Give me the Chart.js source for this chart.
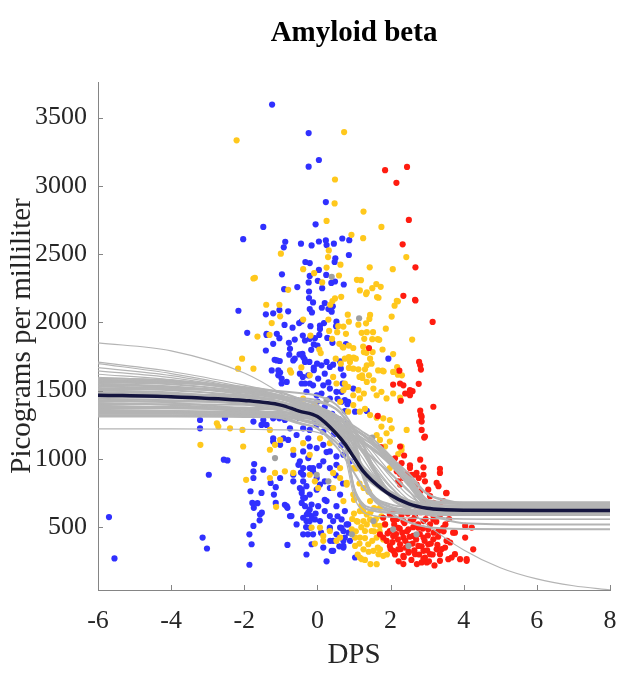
<!DOCTYPE html>
<html>
<head>
<meta charset="utf-8">
<script src="https://cdn.jsdelivr.net/npm/chart.js@4.4.1/dist/chart.umd.min.js"></script>
<style>
  html, body { margin: 0; padding: 0; background: #fff; }
  #wrap { width: 619px; height: 675px; }
</style>
</head>
<body>
<div id="wrap"><canvas id="myChart" width="619" height="675"></canvas></div>
<script>
var chartTitle = "Amyloid beta";
var xLabel = "DPS";
var yLabel = "Picograms per milliliter";
var xTicks = [-6, -4, -2, 0, 2, 4, 6, 8];
var yTicks = [500, 1000, 1500, 2000, 2500, 3000, 3500];

// subjects, [DPS, pg/ml]
var bluePts = [
  [-1.24,3595],[-0.24,3386],[0.04,3189],[-0.24,3140],[-1.48,2699],[-2.03,2609],[-0.05,2718],[-0.88,2590],[-0.92,2549],
  [-0.45,2576],[-0.16,2563],[0.04,2592],[-0.33,2442],[-0.21,2434],[-0.21,2340],[0.04,2384],[-0.97,2352],[-0.91,2243],
  [-0.55,2258],[-0.24,2292],[-0.23,2226],[-0.23,2178],[-0.12,2146],[-2.16,2085],[-1.41,2059],[-1.21,2066],[-1.04,2090],
  [-0.80,2081],[-0.21,2097],[-0.15,2073],[-0.90,1981],[-0.68,1961],[-0.50,1995],[-0.43,2008],[-0.19,1972],[-1.92,1923],
  [-1.39,1908],[0.23,2881],[0.68,2614],[0.87,2602],[0.45,2576],[0.23,2600],[0.25,2566],[0.86,2493],[0.49,2469],
  [0.47,2442],[0.24,2347],[0.38,2289],[0.48,2299],[0.72,2277],[0.13,2250],[0.20,2141],[0.30,2097],[0.42,2117],
  [0.39,2078],[0.12,2107],[0.52,2005],[0.51,1972],[0.18,1995],[0.07,1976],[0.01,2304],[0.07,1952],[0.05,1908],
  [-1.04,1884],[-0.78,1850],[-0.62,1874],[-0.40,1903],[-0.34,1867],[-0.21,1879],[-0.07,1884],[-0.10,1838],[-0.17,1799],
  [0.00,1830],[0.27,1886],[0.41,1850],[-1.41,1794],[-1.17,1726],[-1.03,1717],[-0.77,1763],[-0.62,1734],[-0.49,1765],
  [-0.39,1746],[-0.35,1729],[-0.22,1710],[-0.10,1668],[-0.01,1697],[0.11,1685],[0.25,1710],[0.34,1673],[0.43,1690],
  [-1.25,1648],[-1.02,1632],[0.78,1840],[1.94,1734],[0.64,1661],[0.62,1714],[0.66,1491],[0.69,1552],[0.82,1401],
  [0.75,1430],[0.66,1418],[1.03,1346],[1.35,1351],[0.75,618],[0.66,557],[0.84,520],[0.71,472],[0.75,424],
  [0.89,400],[0.71,363],[1.03,278],[0.66,496],[-0.29,593],[-0.20,497],[0.07,545],[0.34,497],[0.43,400],
  [0.43,327],[0.16,351],[-0.39,448],[-5.70,574],[-5.55,271],[-3.14,424],[-3.02,344],[-2.97,884],[-3.21,1285],
  [-3.21,1224],[-2.53,1297],[-2.56,994],[-2.46,989],[-1.73,962],[-1.75,909],[-1.83,763],[-1.74,642],[-1.78,678],
  [-1.53,751],[-1.57,593],[-1.75,509],[-1.86,448],[-1.80,375],[-1.86,225],[-1.48,1285],[-1.39,1249],[-1.21,1326],
  [-1.04,1297],[-0.89,1285],[-1.21,1151],[-0.93,1151],[-1.28,824],[-1.14,793],[-1.19,739],[-1.14,678],[-0.84,654],
  [-0.75,581],[-0.57,520],[-0.82,370],[-0.75,1224],[-0.57,1175],[-0.39,1224],[-0.66,1030],[-0.48,982],[-0.66,836],
  [-0.39,1055],[-0.21,933],[-0.39,884],[-0.48,787],[-0.34,715],[-0.16,666],[-0.25,606],[-0.30,545],[-0.12,448],
  [-0.16,375],[-0.98,1588],[-0.84,1564],[-0.75,1806],[-0.66,1721],[-1.11,1721],[-1.07,1648],[-1.21,1843],[-1.11,1916],
  [-1.39,1916],[-0.41,1770],[-0.34,1710],[-0.25,1612],[-0.43,1552],[-0.30,1491],[-0.57,1430],[-0.39,1394],[-0.25,1346],
  [-0.12,1539],[-0.02,1466],[0.02,1321],[-0.07,1273],[-1.07,1612],[-0.98,1552],[-0.48,1624],[-0.34,1552],[-0.21,1552],
  [0.02,1588],[0.20,1624],[0.34,1515],[0.11,1479],[-1.75,1273],[-1.53,1249],[-1.21,1297],[-1.02,1333],[-1.21,1127],
  [-1.02,1103],[-0.80,1139],[-1.48,921],[-1.02,860],[-1.75,860],[-0.66,884],[-0.52,957],[-0.39,933],[-0.25,1006],
  [-0.21,1091],[-0.02,1079],[-0.25,1151],[-0.21,1212],[-0.02,1249],[0.16,1200],[-0.30,800],[-0.02,775],[-0.43,751],
  [0.16,1103],[0.34,1055],[0.52,1018],[0.71,1030],[0.89,982],[0.16,982],[0.34,933],[0.52,957],[-0.02,860],
  [0.20,836],[-0.12,909],[0.16,1539],[0.34,1442],[0.52,1491],[0.71,1612],[0.84,1418],[0.98,1515],[-1.64,676],
  [-1.52,606],[-1.58,550],[-0.89,664],[-0.82,642],[-0.71,581],[-0.43,775],[-0.39,715],[-0.43,678],[-0.34,654],
  [-0.21,630],[-0.16,581],[-0.21,545],[-0.07,557],[-0.39,569],[-0.31,501],[-0.26,448],[0.02,654],[0.25,691],
  [0.20,618],[0.34,581],[0.52,654],[0.43,545],[0.62,497],[0.34,484],[0.52,448],[0.71,400],[0.39,327],
  [0.71,351],[-0.12,933],[-0.39,836],[0.07,812],[0.34,787],[-0.21,739],[0.62,739],[-0.50,1300],[-0.30,1350],
  [0.00,1420],[0.20,1380],[0.40,1330],[0.60,1290],[0.80,1260],[-0.40,1600],[-0.10,1650],[0.30,1560],[0.55,1440],
  [0.75,1350],[0.45,1180],[0.65,1100],[0.25,1050],[0.05,950],[0.50,880],[-0.45,900],[0.70,820],[0.20,700],
  [-0.05,600],[0.55,580],[0.80,520],[0.10,460],[0.35,400],[0.85,460],[0.60,360],[-0.30,300],[0.25,250]
];

var yellowPts = [
  [-2.21,3333],[-1.00,2503],[-0.39,2389],[-0.09,2360],[-1.75,2321],[-1.71,2326],[-0.80,2238],[-1.40,2129],[-1.04,2129],
  [-1.02,2044],[-1.25,1995],[-0.39,2020],[-1.64,1896],[0.73,3393],[0.48,3046],[0.47,2871],[1.26,2811],[0.25,2743],
  [1.75,2699],[0.93,2641],[1.25,2616],[0.31,2527],[0.29,2478],[2.43,2478],[0.63,2422],[1.43,2403],[2.06,2389],
  [0.25,2401],[0.59,2343],[1.08,2311],[1.19,2309],[0.13,2292],[1.61,2280],[1.73,2260],[1.50,2250],[1.16,2234],
  [1.35,2219],[1.63,2185],[1.67,2180],[1.33,2207],[2.11,2122],[2.17,2158],[2.20,2154],[0.65,2187],[0.48,2175],
  [0.41,2156],[0.35,2129],[0.83,2056],[0.86,2005],[1.44,2054],[1.42,2025],[2.03,2042],[0.30,2020],[0.71,1969],
  [0.57,1972],[1.12,1983],[1.33,1993],[1.87,1954],[1.52,1928],[1.21,1923],[1.35,1928],[-1.31,1908],[-0.19,1903],
  [0.32,1937],[0.54,1928],[0.78,1916],[0.40,1879],[0.60,1843],[0.71,1816],[0.86,1830],[0.05,1801],[0.09,1775],
  [0.50,1734],[0.64,1697],[0.75,1734],[0.89,1710],[1.05,1734],[0.86,1666],[-2.06,1734],[-2.17,1661],[-0.44,1670],
  [-0.72,1632],[2.59,1874],[1.28,1879],[1.50,1877],[1.65,1877],[1.69,1872],[0.69,1819],[0.98,1812],[1.25,1823],
  [1.51,1782],[1.78,1801],[1.27,1782],[1.34,1777],[2.07,1768],[0.86,1746],[0.99,1741],[1.44,1734],[1.48,1697],
  [1.35,1685],[2.18,1673],[2.31,1612],[2.20,1617],[2.07,1637],[1.78,1646],[0.98,1661],[1.12,1656],[1.30,1656],
  [1.22,1612],[1.41,1612],[1.15,1600],[1.23,1593],[1.53,1576],[1.35,1564],[1.66,1648],[1.81,1641],[0.75,1552],
  [0.84,1528],[0.71,1503],[0.98,1466],[1.16,1443],[1.27,1479],[1.12,1503],[1.53,1515],[1.75,1491],[1.62,1466],
  [1.89,1443],[2.07,1479],[2.26,1448],[1.30,1367],[1.16,1346],[1.44,1321],[1.62,1302],[1.80,1297],[1.98,1285],
  [1.75,1237],[2.03,1224],[1.89,1188],[1.62,1175],[2.44,1212],[1.71,1139],[1.98,1127],[1.85,1091],[2.30,1091],
  [2.30,1066],[2.21,1035],[2.12,957],[1.98,933],[-0.75,1648],[-0.21,1612],[0.43,1600],[0.52,1552],[0.80,1527],
  [-0.66,1067],[-0.39,1115],[-0.21,1030],[0.07,1151],[0.34,1115],[0.43,897],[0.62,860],[0.80,824],[0.98,933],
  [0.43,787],[0.62,1418],[0.84,1346],[0.98,1394],[-3.20,1103],[-2.75,1261],[-2.71,1237],[-2.39,1224],[-1.75,1661],
  [-2.05,1212],[-2.03,1091],[-1.95,847],[-1.30,1212],[-1.30,1067],[-1.16,1103],[-1.02,1139],[-1.30,860],[-1.16,897],
  [-0.89,909],[-0.66,897],[-1.13,649],[-0.21,884],[-0.07,836],[0.02,787],[-0.16,497],[-0.07,380],[-0.39,1442],
  [-0.07,1394],[0.16,436],[0.34,472],[0.62,424],[1.16,618],[1.35,593],[1.44,557],[1.26,545],[1.57,520],
  [1.71,509],[1.30,472],[1.48,472],[1.16,424],[1.62,424],[1.39,375],[1.26,338],[1.53,327],[1.71,338],
  [1.80,290],[1.62,229],[1.21,266],[1.03,363],[0.94,484],[1.07,545],[0.07,497],[0.16,400],[0.52,400],
  [1.03,424],[1.16,278],[1.67,302],[1.89,400],[0.62,933],[0.80,812],[0.98,739],[0.71,691],[1.26,787],
  [1.44,691],[1.71,642],[1.00,600],[1.05,470],[1.10,540],[1.15,380],[1.20,500],[1.25,620],[1.30,420],
  [1.35,520],[1.40,320],[1.45,610],[1.50,400],[1.55,470],[1.60,560],[1.65,350],[1.70,470],[1.75,580],
  [1.80,410],[1.85,520],[1.90,300],[1.30,260],[1.45,230],[1.10,300],[0.95,560],[1.55,640],[1.20,660],
  [1.00,700],[1.40,760],[1.15,820],[1.30,880],[1.05,930]
];

var redPts = [
  [1.85,3114],[2.45,3138],[2.16,3022],[2.50,2750],[2.33,2571],[2.68,2403],[2.35,2194],[2.67,2165],[2.68,2160],
  [3.15,2003],[1.41,1812],[2.78,1710],[2.81,1685],[2.83,1654],[2.24,1646],[2.07,1544],[2.35,1539],[2.53,1491],
  [2.60,1496],[2.28,1426],[2.77,1550],[1.65,1315],[3.17,1382],[2.81,1353],[2.83,1321],[2.85,1273],[2.92,1156],
  [1.73,1086],[2.37,1025],[2.81,994],[2.90,938],[2.12,1004],[2.30,969],[2.21,933],[2.53,953],[2.71,897],
  [2.58,884],[2.44,889],[3.35,927],[3.26,824],[3.31,800],[2.90,884],[2.77,860],[2.94,836],[2.26,889],
  [2.35,860],[2.21,836],[3.52,749],[2.71,812],[3.03,775],[2.26,1552],[2.53,1503],[2.40,1479],[2.53,1467],
  [2.85,1309],[2.94,1164],[2.85,1212],[2.26,1091],[3.35,897],[3.44,691],[3.71,460],[4.04,424],[4.26,338],
  [3.67,278],[4.08,254],[3.53,400],[3.44,496],[2.53,933],[2.67,884],[2.35,872],[2.26,812],[2.53,824],
  [2.17,909],[2.81,763],[3.53,751],[3.08,727],[3.49,642],[3.76,637],[2.99,606],[3.76,460],[3.63,388],
  [3.49,351],[3.35,302],[3.76,302],[3.90,266],[3.58,266],[2.94,278],[2.85,242],[4.08,266],[2.67,302],
  [2.49,314],[2.35,290],[2.21,338],[2.07,327],[1.98,363],[1.89,400],[1.80,424],[1.71,448],[2.07,557],
  [2.35,545],[2.62,557],[2.90,545],[3.17,557],[2.21,496],[2.49,484],[2.76,496],[3.03,484],[3.31,472],
  [2.07,436],[2.35,424],[2.62,436],[2.90,424],[3.17,411],[2.49,375],[2.76,363],[3.03,375],[2.26,375],
  [1.98,472],[2.90,691],[3.17,678],[3.35,654],[2.71,654],[2.44,666],[2.26,618],[1.98,593],[1.80,569],
  [4.04,509],[4.22,497],[3.08,302],[3.26,338],[2.90,327],[2.99,242],[3.35,254],[1.85,520],[1.92,455],
  [2.00,600],[2.05,390],[2.10,520],[2.12,300],[2.15,450],[2.18,560],[2.20,410],[2.22,250],[2.25,490],
  [2.28,340],[2.30,590],[2.32,460],[2.36,280],[2.38,530],[2.40,400],[2.42,350],[2.45,470],[2.47,600],
  [2.50,320],[2.52,430],[2.55,550],[2.57,260],[2.60,380],[2.62,500],[2.65,330],[2.67,580],[2.70,410],
  [2.72,230],[2.75,520],[2.78,300],[2.80,450],[2.82,610],[2.85,360],[2.88,490],[2.90,270],[2.93,400],
  [2.96,560],[3.00,330],[3.02,440],[3.05,250],[3.08,520],[3.10,380],[3.12,600],[3.15,300],[3.18,460],
  [3.20,220],[3.25,540],[3.28,370],[3.30,430],[3.35,590],[3.40,340],[3.45,470],[3.50,520],[3.55,400],
  [3.60,560],[2.00,340],[2.15,620],[2.35,230]
];

var grayPts = [
  [0.39,2333],[1.14,2030],[1.50,1156],[-1.16,1006],[-0.02,884],[0.30,836],[1.53,545],[2.07,484],[2.71,448],
  [2.49,363],[0.94,448],[0.25,1430]
];

// model curves, values read at these DPS positions
var curveX = [-6, -4, -2, -1, -0.5, 0, 0.5, 0.75, 1, 1.25, 1.5, 2, 2.5, 3, 3.5, 4, 6, 8];
var meanCurve = [1467,1455,1428,1394,1350,1310,1190,1110,1010,910,840,735,670,638,628,624,622,622];
var bandCurves = [
  [1311,1311,1307,1304,1300,1282,1210,1096,773,650,622,607,600,596,593,593,593,593],
  [1320,1320,1317,1313,1306,1293,1252,1198,1082,878,742,667,647,640,640,640,640,640],
  [1330,1330,1326,1323,1319,1301,1229,1114,790,668,639,624,617,613,610,610,610,610],
  [1340,1340,1337,1330,1320,1306,1258,1204,1129,1041,932,755,687,667,660,660,660,660],
  [1350,1350,1346,1343,1335,1320,1275,1215,1088,863,713,630,608,600,600,600,600,600],
  [1360,1350,1326,1297,1259,1224,1121,1051,965,879,818,728,672,644,635,631,630,630],
  [1370,1370,1366,1362,1358,1339,1261,1136,785,652,621,606,598,593,590,590,590,590],
  [1380,1380,1376,1369,1358,1344,1292,1234,1154,1059,942,752,679,657,650,650,650,650],
  [1390,1377,1348,1312,1265,1221,1093,1007,900,793,718,605,536,501,490,486,484,484],
  [1400,1400,1396,1392,1384,1369,1322,1260,1127,893,737,651,628,620,620,620,620,620],
  [1410,1395,1358,1321,1292,1262,1218,1188,1151,1114,1070,973,870,744,700,677,670,670],
  [1420,1420,1416,1408,1395,1379,1322,1256,1166,1059,928,715,633,608,600,600,600,600],
  [1430,1412,1366,1321,1284,1248,1193,1157,1112,1066,1011,893,766,611,556,529,520,520],
  [1440,1429,1403,1371,1330,1291,1178,1102,1007,913,846,747,686,655,646,642,640,640],
  [1450,1450,1446,1442,1433,1416,1366,1299,1156,904,736,644,618,610,610,610,610,610],
  [1460,1448,1400,1353,1314,1276,1228,1199,1160,1121,1082,972,834,697,684,680,680,680],
  [1470,1470,1466,1457,1445,1428,1368,1300,1207,1096,960,739,654,629,620,620,620,620],
  [1480,1462,1418,1374,1339,1304,1251,1216,1172,1128,1075,961,838,688,635,609,600,600],
  [1490,1478,1451,1418,1374,1334,1214,1135,1036,936,867,763,698,666,656,652,650,650],
  [1500,1486,1433,1381,1337,1295,1242,1209,1165,1122,1079,955,802,649,634,630,630,630],
  [1510,1510,1505,1496,1483,1464,1400,1327,1226,1107,961,723,632,604,595,595,595,595],
  [1520,1503,1460,1417,1382,1348,1296,1262,1219,1176,1124,1013,892,746,694,669,660,660],
  [1530,1517,1488,1451,1404,1360,1230,1143,1035,927,851,738,667,632,621,617,615,615],
  [1540,1526,1471,1417,1372,1328,1273,1239,1194,1149,1104,977,818,660,644,640,640,640],
  [1550,1531,1484,1437,1399,1361,1304,1267,1219,1172,1115,992,860,700,643,614,605,605],
  [1560,1546,1491,1438,1394,1350,1296,1262,1217,1174,1129,1003,846,690,674,670,670,670],
  [1570,1557,1527,1489,1440,1394,1260,1170,1059,947,869,752,679,643,632,627,625,625],
  [1580,1565,1508,1453,1406,1361,1304,1268,1222,1176,1130,998,834,670,655,650,650,650],
  [1590,1575,1520,1465,1420,1375,1320,1285,1240,1195,1150,1020,860,700,685,680,680,680]
];
var thinCurves = [
  [1220,1220,1217,1213,1210,1194,1128,1022,725,613,586,573,567,563,560,560,560,560],
  [1708,1640,1540,1480,1440,1390,1320,1270,1210,1140,1060,900,760,680,655,648,645,645],
  [1698,1625,1525,1465,1425,1380,1305,1255,1190,1115,1030,870,730,660,640,633,630,630],
  [1668,1610,1515,1455,1415,1365,1290,1235,1170,1090,1000,830,700,645,628,622,620,620],
  [1645,1595,1510,1450,1410,1355,1275,1215,1150,1060,970,800,680,625,608,602,600,600],
  [1620,1580,1505,1445,1405,1350,1265,1200,1130,1040,950,790,680,635,620,616,615,615],
  [1598,1570,1500,1440,1400,1340,1250,1180,1100,1000,900,740,640,590,568,560,557,557]
];
// the one slow curve that runs down to the bottom
var slowCurveX = [-6, -4, -2, -1, 0, 0.5, 1, 1.5, 2, 2.5, 3, 4, 5, 6, 7, 8];
var slowCurve = [1850,1791,1629,1478,1270,1147,1018,884,754,630,517,333,203,121,71,41];

function toXY(list) {
  return list.map(function (p) { return { x: p[0], y: p[1] }; });
}
function curveXY(xs, ys) {
  return ys.map(function (v, i) { return { x: xs[i], y: v }; });
}
function curveSet(xs, ys, width) {
  return {
    type: 'line', data: curveXY(xs, ys),
    borderColor: 'rgb(180,180,180)', borderWidth: width, pointRadius: 0,
    cubicInterpolationMode: 'monotone', fill: false, order: 1
  };
}

var serif = '"Liberation Serif", "Times New Roman", serif';
var datasets = [];

datasets.push({
  type: 'line', label: 'mean', data: curveXY(curveX, meanCurve),
  borderColor: '#15153f', borderWidth: 3.5, pointRadius: 0,
  cubicInterpolationMode: 'monotone', fill: false, order: 0
});
bandCurves.forEach(function (c) { datasets.push(curveSet(curveX, c, 2)); });
thinCurves.forEach(function (c) { datasets.push(curveSet(curveX, c, 1.2)); });
datasets.push(curveSet(slowCurveX, slowCurve, 1.2));

var groups = [
  { pts: grayPts, color: 'rgb(160,160,160)', order: 2 },
  { pts: redPts, color: 'rgb(255,28,16)', order: 3 },
  { pts: yellowPts, color: 'rgb(255,200,28)', order: 4 },
  { pts: bluePts, color: 'rgb(48,48,255)', order: 5 }
];
groups.forEach(function (g) {
  datasets.push({
    type: 'scatter', data: toXY(g.pts),
    backgroundColor: g.color, borderWidth: 0, pointRadius: 3.1, order: g.order
  });
});

var decor = {
  id: 'decor',
  afterDraw: function (chart) {
    var ctx = chart.ctx, a = chart.chartArea;
    var xs = chart.scales.x, ys = chart.scales.y;
    ctx.save();
    ctx.strokeStyle = '#858585';
    ctx.lineWidth = 1;
    ctx.beginPath();
    xTicks.forEach(function (v) {
      var px = Math.round(xs.getPixelForValue(v)) + 0.5;
      ctx.moveTo(px, a.bottom); ctx.lineTo(px, a.bottom - 5);
    });
    yTicks.forEach(function (v) {
      var py = Math.round(ys.getPixelForValue(v)) + 0.5;
      ctx.moveTo(a.left, py); ctx.lineTo(a.left + 5, py);
    });
    ctx.stroke();
    ctx.fillStyle = '#000';
    ctx.font = 'bold 29px ' + serif;
    ctx.textAlign = 'center';
    ctx.textBaseline = 'alphabetic';
    ctx.fillText(chartTitle, (a.left + a.right) / 2, 41);
    ctx.restore();
  }
};

var plainNumber = function (v) { return String(v); };

var ctx = document.getElementById('myChart').getContext('2d');
var myChart = new Chart(ctx, {
  type: 'scatter',
  data: { datasets: datasets },
  plugins: [decor],
  options: {
    responsive: false,
    animation: false,
    layout: { padding: { top: 82, right: 9, left: 0, bottom: 0 } },
    plugins: { legend: { display: false }, tooltip: { enabled: false }, title: { display: false } },
    scales: {
      x: {
        type: 'linear', min: -6, max: 8,
        afterBuildTicks: function (s) { s.ticks = xTicks.map(function (v) { return { value: v }; }); },
        afterFit: function (s) { s.height = 85; s.paddingLeft = 0; s.paddingRight = 0; },
        grid: { display: false, drawTicks: false },
        border: { display: true, color: '#858585', width: 1 },
        ticks: { color: '#262626', font: { family: serif, size: 26 }, padding: 16, maxRotation: 0, callback: plainNumber },
        title: { display: true, text: xLabel, color: '#262626', font: { family: serif, size: 29 }, padding: { top: 0, bottom: 2 } }
      },
      y: {
        type: 'linear', min: 40, max: 3760,
        afterBuildTicks: function (s) { s.ticks = yTicks.map(function (v) { return { value: v }; }); },
        afterFit: function (s) { s.width = 98; s.paddingTop = 0; s.paddingBottom = 0; },
        grid: { display: false, drawTicks: false },
        border: { display: true, color: '#858585', width: 1 },
        ticks: { color: '#262626', font: { family: serif, size: 26 }, padding: 11, callback: plainNumber },
        title: { display: true, text: yLabel, color: '#262626', font: { family: serif, size: 29 }, padding: { top: 5, bottom: 0 } }
      }
    }
  }
});
</script>
</body>
</html>
